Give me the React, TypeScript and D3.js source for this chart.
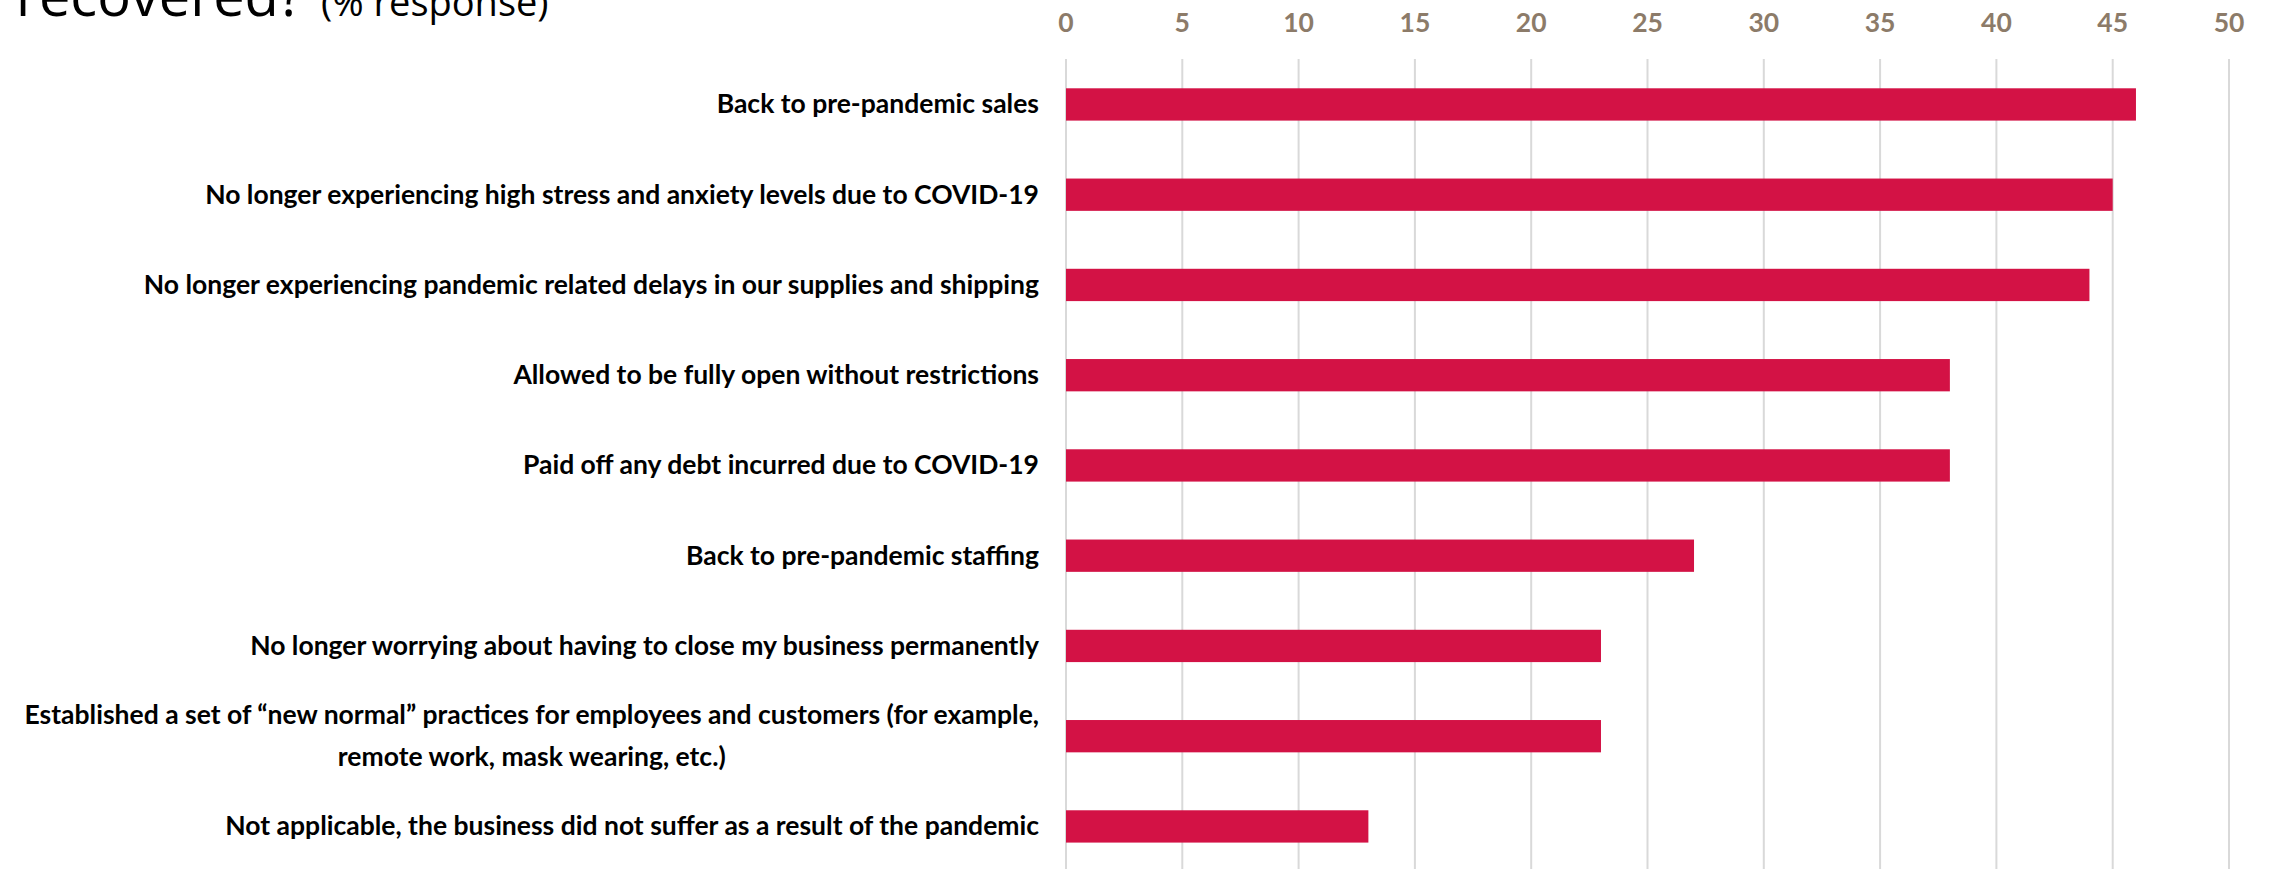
import React, { useLayoutEffect, useRef, useState } from "react";
import * as d3 from "d3";

const categories: string[] = [
  "Back to pre-pandemic sales",
  "No longer experiencing high stress and anxiety levels due to COVID-19",
  "No longer experiencing pandemic related delays in our supplies and shipping",
  "Allowed to be fully open without restrictions",
  "Paid off any debt incurred due to COVID-19",
  "Back to pre-pandemic staffing",
  "No longer worrying about having to close my business permanently",
  "Established a set of “new normal” practices for employees and customers (for example,|remote work, mask wearing, etc.)",
  "Not applicable, the business did not suffer as a result of the pandemic",
];
const values: number[] = [46, 45, 44, 38, 38, 27, 23, 23, 13];
const tickValues: number[] = [0, 5, 10, 15, 20, 25, 30, 35, 40, 45, 50];
const titleMain = "recovered?";
const titleSub = "(% response)";

const W = 2269;
const H = 869;
const FONT = "Lato, 'Noto Sans', sans-serif";
const LABEL_RIGHT = 1039;

export default function App() {
  const x = d3.scaleLinear().domain([0, 50]).range([1066, 2229]);
  const y = d3
    .scaleBand<string>()
    .domain(categories)
    .range([59, 59 + 90.25 * 9.007])
    .paddingInner(0.642)
    .paddingOuter(0.3246);
  const bw = y.bandwidth();

  const multiRefs = useRef<Record<number, SVGTextElement | null>>({});
  const [centers, setCenters] = useState<Record<number, number>>({});
  useLayoutEffect(() => {
    const next: Record<number, number> = {};
    Object.entries(multiRefs.current).forEach(([k, el]) => {
      if (!el) return;
      const bb = el.getBBox();
      next[+k] = LABEL_RIGHT - bb.width / 2;
    });
    setCenters(next);
  }, []);

  return (
    <svg
      width={W}
      height={H}
      style={{ position: "fixed", left: 0, top: 0, background: "#fff" }}
      fontFamily={FONT}
    >
      <rect x={0} y={0} width={W} height={H} fill="#fff" />
      <text x={16} y={16} fill="#000" fontFamily="'Open Sans', Lato, sans-serif">
        <tspan fontSize={56}>{titleMain}</tspan>
        <tspan fontSize={38} dx={18}>{titleSub}</tspan>
      </text>
      {tickValues.map((t) => (
        <g key={t}>
          <line x1={x(t)} x2={x(t)} y1={59} y2={H} stroke="#d9d9d9" strokeWidth={2} />
          <text
            x={x(t)}
            y={32}
            textAnchor="middle"
            fontSize={26.5}
            fontWeight="bold"
            fill="#8c7b69"
          >
            {t}
          </text>
        </g>
      ))}
      {categories.map((c, i) => {
        const cy = (y(c) as number) + bw / 2;
        const lines = c.split("|");
        const cx = centers[i] ?? 530;
        return (
          <g key={c}>
            <rect x={x(0)} y={y(c)} width={x(values[i]) - x(0)} height={bw} fill="#d31245" />
            {lines.length === 1 ? (
              <text x={LABEL_RIGHT} y={cy + 9} textAnchor="end" fontSize={26.5} fontWeight="bold" fill="#000">
                {lines[0]}
              </text>
            ) : (
              <text
                ref={(el) => {
                  multiRefs.current[i] = el;
                }}
                textAnchor="middle"
                fontSize={26.5}
                fontWeight="bold"
                fill="#000"
              >
                {lines.map((l, j) => (
                  <tspan key={j} x={cx} y={cy + 9 - 21 + j * 42}>
                    {l}
                  </tspan>
                ))}
              </text>
            )}
          </g>
        );
      })}
    </svg>
  );
}
